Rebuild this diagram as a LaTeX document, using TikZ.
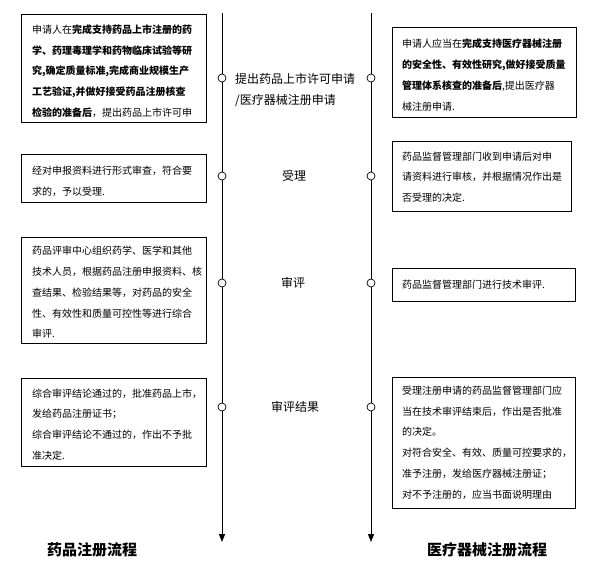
\documentclass[tikz,border=0pt]{standalone}
\usepackage{fontspec}
\setmainfont{Noto Sans CJK SC}
\usetikzlibrary{arrows.meta}
\tikzset{
  box/.style={draw=black, line width=0.9pt, fill=white, inner sep=0pt},
  txt/.style={anchor=west, align=left, inner sep=0pt, font=\fontsize{10}{20.8}\selectfont},
  steplabel/.style={inner sep=0pt, font=\fontsize{12}{21}\selectfont},
  dot/.style={circle, draw=black, fill=white, line width=0.7pt, minimum size=8pt, inner sep=0pt},
  flow/.style={line width=1pt, draw=black},
  title/.style={inner sep=0pt, font=\fontsize{15}{18}\selectfont\bfseries}
}
\begin{document}
\begin{tikzpicture}[x=1pt,y=-1pt]
\useasboundingbox (0,0) rectangle (595,565);
\fill[white] (0,0) rectangle (595,565);

% timeline coordinates
\coordinate (ltop) at (222,13);
\coordinate (lbot) at (222,542);
\coordinate (rtop) at (371,13);
\coordinate (rbot) at (371,542);

\node[dot] (lc1) at (222,78) {};
\node[dot] (lc2) at (222,176) {};
\node[dot] (lc3) at (222,283) {};
\node[dot] (lc4) at (222,407) {};
\node[dot] (rc1) at (371,78) {};
\node[dot] (rc2) at (371,176) {};
\node[dot] (rc3) at (371,283) {};
\node[dot] (rc4) at (371,407) {};

\draw[flow] (ltop) -- (lc1);
\draw[flow] (lc1) -- (lc2);
\draw[flow] (lc2) -- (lc3);
\draw[flow] (lc3) -- (lc4);
\draw[flow, -{Triangle[width=6pt,length=8pt]}] (lc4) -- (lbot);
\draw[flow] (rtop) -- (rc1);
\draw[flow] (rc1) -- (rc2);
\draw[flow] (rc2) -- (rc3);
\draw[flow] (rc3) -- (rc4);
\draw[flow, -{Triangle[width=6pt,length=8pt]}] (rc4) -- (rbot);

% step labels
\node[steplabel, anchor=west, align=left] (s1) at (235,89.5) {提出药品上市许可申请\\/医疗器械注册申请};
\node[steplabel] (s2) at (294,176) {受理};
\node[steplabel] (s3) at (293,283) {审评};
\node[steplabel] (s4) at (295,407) {审评结果};

% left boxes
\node[box, minimum width=185pt, minimum height=108pt] (l1) at (113.5,68) {};
\node[txt] (lt1) at (32,71) {申请人在\textbf{完成支持药品上市注册的药}\\
\textbf{学、药理毒理学和药物临床试验等研}\\
\textbf{究,确定质量标准,完成商业规模生产}\\
\textbf{工艺验证,并做好接受药品注册核查}\\
\textbf{检验的准备后}，提出药品上市许可申};

\node[box, minimum width=185pt, minimum height=48pt] (l2) at (113.5,178) {};
\node[txt] (lt2) at (32,181.5) {经对申报资料进行形式审查，符合要\\求的，予以受理.};

\node[box, minimum width=185pt, minimum height=106pt] (l3) at (113.5,290) {};
\node[txt] (lt3) at (32,292.5) {药品评审中心组织药学、医学和其他\\
技术人员，根据药品注册申报资料、核\\
查结果、检验结果等，对药品的安全\\
性、有效性和质量可控性等进行综合\\
审评.};

\node[box, minimum width=185pt, minimum height=88pt] (l4) at (113.5,422) {};
\node[txt] (lt4) at (32,424.5) {综合审评结论通过的，批准药品上市，\\
发给药品注册证书；\\
综合审评结论不通过的，作出不予批\\
准决定.};

% right boxes
\node[box, minimum width=184pt, minimum height=90pt] (r1) at (484,72) {};
\node[txt] (rt1) at (402,75) {申请人应当在\textbf{完成支持医疗器械注册}\\
\textbf{的安全性、有效性研究,做好接受质量}\\
\textbf{管理体系核查的准备后},提出医疗器\\
械注册申请.};

\node[box, minimum width=179pt, minimum height=70pt] (r2) at (481.5,176) {};
\node[txt] (rt2) at (402,177) {药品监督管理部门收到申请后对申\\
请资料进行审核，并根据情况作出是\\
否受理的决定.};

\node[box, minimum width=183pt, minimum height=33pt] (r3) at (483.5,284.5) {};
\node[txt] (rt3) at (402,284.5) {药品监督管理部门进行技术审评.};

\node[box, minimum width=183pt, minimum height=131pt] (r4) at (483.5,442.5) {};
\node[txt] (rt4) at (402,442.5) {受理注册申请的药品监督管理部门应\\
当在技术审评结束后，作出是否批准\\
的决定。\\
对符合安全、有效、质量可控要求的，\\
准予注册，发给医疗器械注册证；\\
对不予注册的，应当书面说明理由};

% titles
\node[title] (t1) at (92,550) {药品注册流程};
\node[title] (t2) at (487,550) {医疗器械注册流程};
\end{tikzpicture}
\end{document}
